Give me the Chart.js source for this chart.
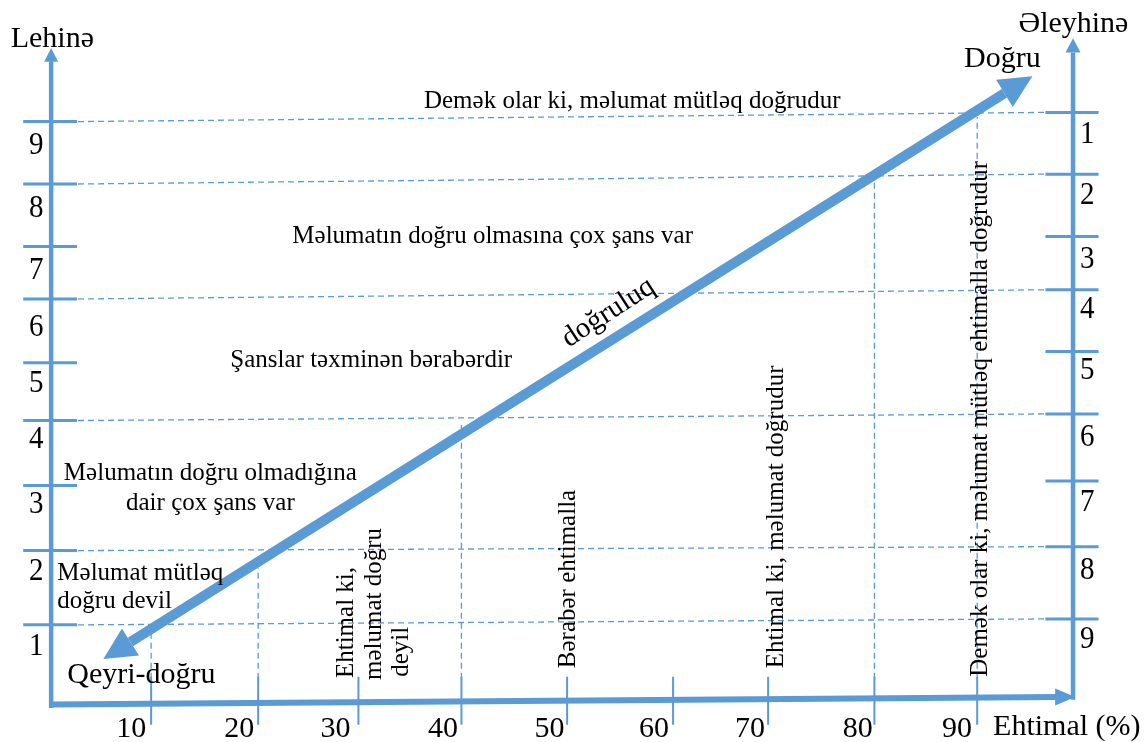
<!DOCTYPE html>
<html><head><meta charset="utf-8">
<script src="https://cdn.jsdelivr.net/npm/chart.js@4.4.1/dist/chart.umd.min.js"></script>
<style>html,body{margin:0;padding:0;background:#fff}#wrap{width:1146px;height:742px;position:relative}</style>
</head><body><div id="wrap"><canvas id="c"></canvas></div>
<script>
// ---- data (x: Ehtimal %, y: Lehinə units) ----
const xTickLabels = ['10','20','30','40','50','60','70','80','90'];
const xTickPos    = [10.07,20.42,30.12,40.08,50.3,60.55,69.74,80.02,89.96];
const xLabelPos   = [8.16,18.6,27.9,38.3,48.6,58.7,68.0,78.4,88.0];

const leftTickLabels = ['1','2','3','4','5','6','7','8','9'];
const leftLabelPos   = [0.76,1.90,2.92,3.91,4.76,5.62,6.48,7.43,8.39];
const leftTickPos    = [1.22,2.35,3.34,4.33,5.21,6.18,6.98,7.93,8.88];

const rightTickLabels = ['1','2','3','4','5','6','7','8','9'];
const rightLabelPos   = [8.55,7.63,6.65,5.89,4.96,3.94,2.95,1.92,0.87];
const rightTickPos    = [9.02,8.08,7.13,6.32,5.38,4.43,3.41,2.41,1.31];

const dashLeftY  = [8.88,7.93,6.18,4.33,2.35,1.22];
const dashRightY = [9.02,8.08,6.32,4.43,2.41,1.31];

const vDashX   = [10.07,20.42,40.08,80.02,89.96];
const vDashTop = [1.23,2.09,4.26,7.99,8.95];

const arrowTailTip  = {x:5.45, y:0.70};
const arrowTailBase = {x:8.07, y:0.96};
const arrowHeadBase = {x:92.6, y:9.31};
const arrowHeadTip  = {x:95.3, y:9.57};

const leftAxisX = 0.4, rightAxisX = 99.23;

// ---- styling / layout ----
const BLUE = '#5b9bd5';
const FONT = '"Liberation Serif", "Times New Roman", serif';

function segs(list){ // list of [p1,p2]
  const out=[];
  list.forEach(([a,b])=>{out.push(a,b,{x:b.x,y:null});});
  return out;
}
function lineDs(data, width, extra){
  return Object.assign({type:'line', data, borderColor:BLUE, borderWidth:width, pointRadius:0,
    pointHoverRadius:0, fill:false, tension:0, spanGaps:false, clip:false, borderCapStyle:'butt'}, extra||{});
}

const datasets = [
  lineDs([arrowTailBase, arrowHeadBase], 10),
  lineDs([{x:leftAxisX,y:-0.045},{x:leftAxisX,y:9.8}], 4.5),
  lineDs([{x:rightAxisX,y:0.08},{x:rightAxisX,y:9.93}], 4.5),
  lineDs([{x:0.2,y:0.008},{x:97.6,y:0.12}], 6),
  lineDs(segs(leftTickPos.map(y=>[{x:-2.3,y},{x:2.9,y}])), 3),
  lineDs(segs(rightTickPos.map(y=>[{x:96.56,y},{x:101.7,y}])), 3),
  lineDs(segs(xTickPos.map(x=>[{x,y:-0.30},{x,y:0.43}])), 2),
  lineDs(segs(dashLeftY.map((y,i)=>[{x:3.0,y},{x:96.5,y:dashRightY[i]}])), 1.3, {borderDash:[6,4]}),
  lineDs(segs(vDashX.map((x,i)=>[{x,y:0.4},{x,y:vDashTop[i]}])), 1.3, {borderDash:[6,4]})
];

const arrowHeads = [
  {tip:arrowHeadTip, base:arrowHeadBase, w:32},
  {tip:arrowTailTip, base:arrowTailBase, w:32},
  {tip:{x:leftAxisX,y:10.0}, base:{x:leftAxisX,y:9.79}, w:14},
  {tip:{x:rightAxisX,y:10.15}, base:{x:rightAxisX,y:9.93}, w:15},
  {tip:{x:99.46,y:0.12}, base:{x:97.5,y:0.12}, w:17}
];

const texts = [
  {t:'Lehinə', x:0.52, y:10.02, s:30, a:'center'},
  {t:'Əleyhinə', x:99.27, y:10.24, s:30, a:'center'},
  {t:'Doğru', x:92.4, y:9.71, s:30, a:'center'},
  {t:'Qeyri-doğru', x:9.13, y:0.335, s:30, a:'center'},
  {t:'Demək olar ki, məlumat mütləq doğrudur', x:56.6, y:9.09, s:25, a:'center'},
  {t:'Məlumatın doğru olmasına çox şans var', x:43.1, y:7.03, s:25, a:'center'},
  {t:'Şanslar təxminən bərabərdir', x:17.73, y:5.14, s:25, a:'left'},
  {t:'Məlumatın doğru olmadığına', x:15.8, y:3.42, s:25, a:'center'},
  {t:'dair çox şans var', x:15.8, y:2.97, s:25, a:'center'},
  {t:'Məlumat mütləq', x:1.0, y:1.90, s:25, a:'left'},
  {t:'doğru devil', x:1.0, y:1.48, s:25, a:'left'},
  {t:'Ehtimal ki,', x:29.63, y:0.41, s:25, a:'left', r:-90},
  {t:'məlumat doğru', x:32.3, y:0.38, s:25, a:'left', r:-90},
  {t:'deyil', x:34.95, y:0.43, s:25, a:'left', r:-90},
  {t:'Bərabər ehtimalla', x:51.1, y:0.56, s:25, a:'left', r:-90},
  {t:'Ehtimal ki, məlumat doğrudur', x:71.2, y:0.56, s:25, a:'left', r:-90},
  {t:'Demək olar ki, məlumat mütləq ehtimalla doğrudur', x:90.95, y:0.43, s:25, a:'left', r:-90},
  {t:'doğruluq', x:54.3, y:5.97, s:29, a:'center', r:-33, b:'middle'},
  {t:'Ehtimal (%)', x:91.5, y:-0.46, s:30, a:'left'}
];

const overlay = {
  id:'overlay',
  afterDatasetsDraw(chart){
    const {ctx, scales:{x:sx, y:sy}} = chart;
    const P = p => ({x:sx.getPixelForValue(p.x), y:sy.getPixelForValue(p.y)});
    ctx.save();
    ctx.fillStyle = BLUE;
    arrowHeads.forEach(h=>{
      const t=P(h.tip), b=P(h.base);
      const dx=t.x-b.x, dy=t.y-b.y, L=Math.hypot(dx,dy);
      const nx=-dy/L*h.w/2, ny=dx/L*h.w/2;
      ctx.beginPath();
      ctx.moveTo(t.x,t.y); ctx.lineTo(b.x+nx,b.y+ny); ctx.lineTo(b.x-nx,b.y-ny);
      ctx.closePath(); ctx.fill();
    });
    ctx.fillStyle = '#000';
    const draw = (t,x,y,s,a,r,bl,sc)=>{
      const p=P({x,y});
      ctx.save();
      ctx.font = s+'px '+FONT;
      ctx.textAlign = a; ctx.textBaseline = bl||'alphabetic';
      ctx.translate(p.x,p.y);
      if(r) ctx.rotate(r*Math.PI/180);
      if(sc) ctx.scale(1,sc);
      ctx.fillText(t,0,0);
      ctx.restore();
    };
    texts.forEach(o=>draw(o.t,o.x,o.y,o.s,o.a,o.r,o.b));
    xTickLabels.forEach((l,i)=>draw(l,xLabelPos[i],-0.49,30,'center'));
    leftTickLabels.forEach((l,i)=>draw(l,-1.03,leftLabelPos[i],29,'center',0,null,1.08));
    rightTickLabels.forEach((l,i)=>draw(l,100.6,rightLabelPos[i],29,'center',0,null,1.08));
    ctx.restore();
  }
};

new Chart(document.getElementById('c'), {
  type:'scatter',
  data:{datasets},
  options:{
    responsive:true, maintainAspectRatio:false, animation:false,
    layout:{padding:{left:47, right:65, top:48, bottom:37}},
    scales:{
      x:{type:'linear', min:0, max:100, display:false},
      y:{type:'linear', min:0, max:10, display:false}
    },
    plugins:{legend:{display:false}, tooltip:{enabled:false}, title:{display:false}},
    events:[]
  },
  plugins:[overlay]
});
</script></body></html>
